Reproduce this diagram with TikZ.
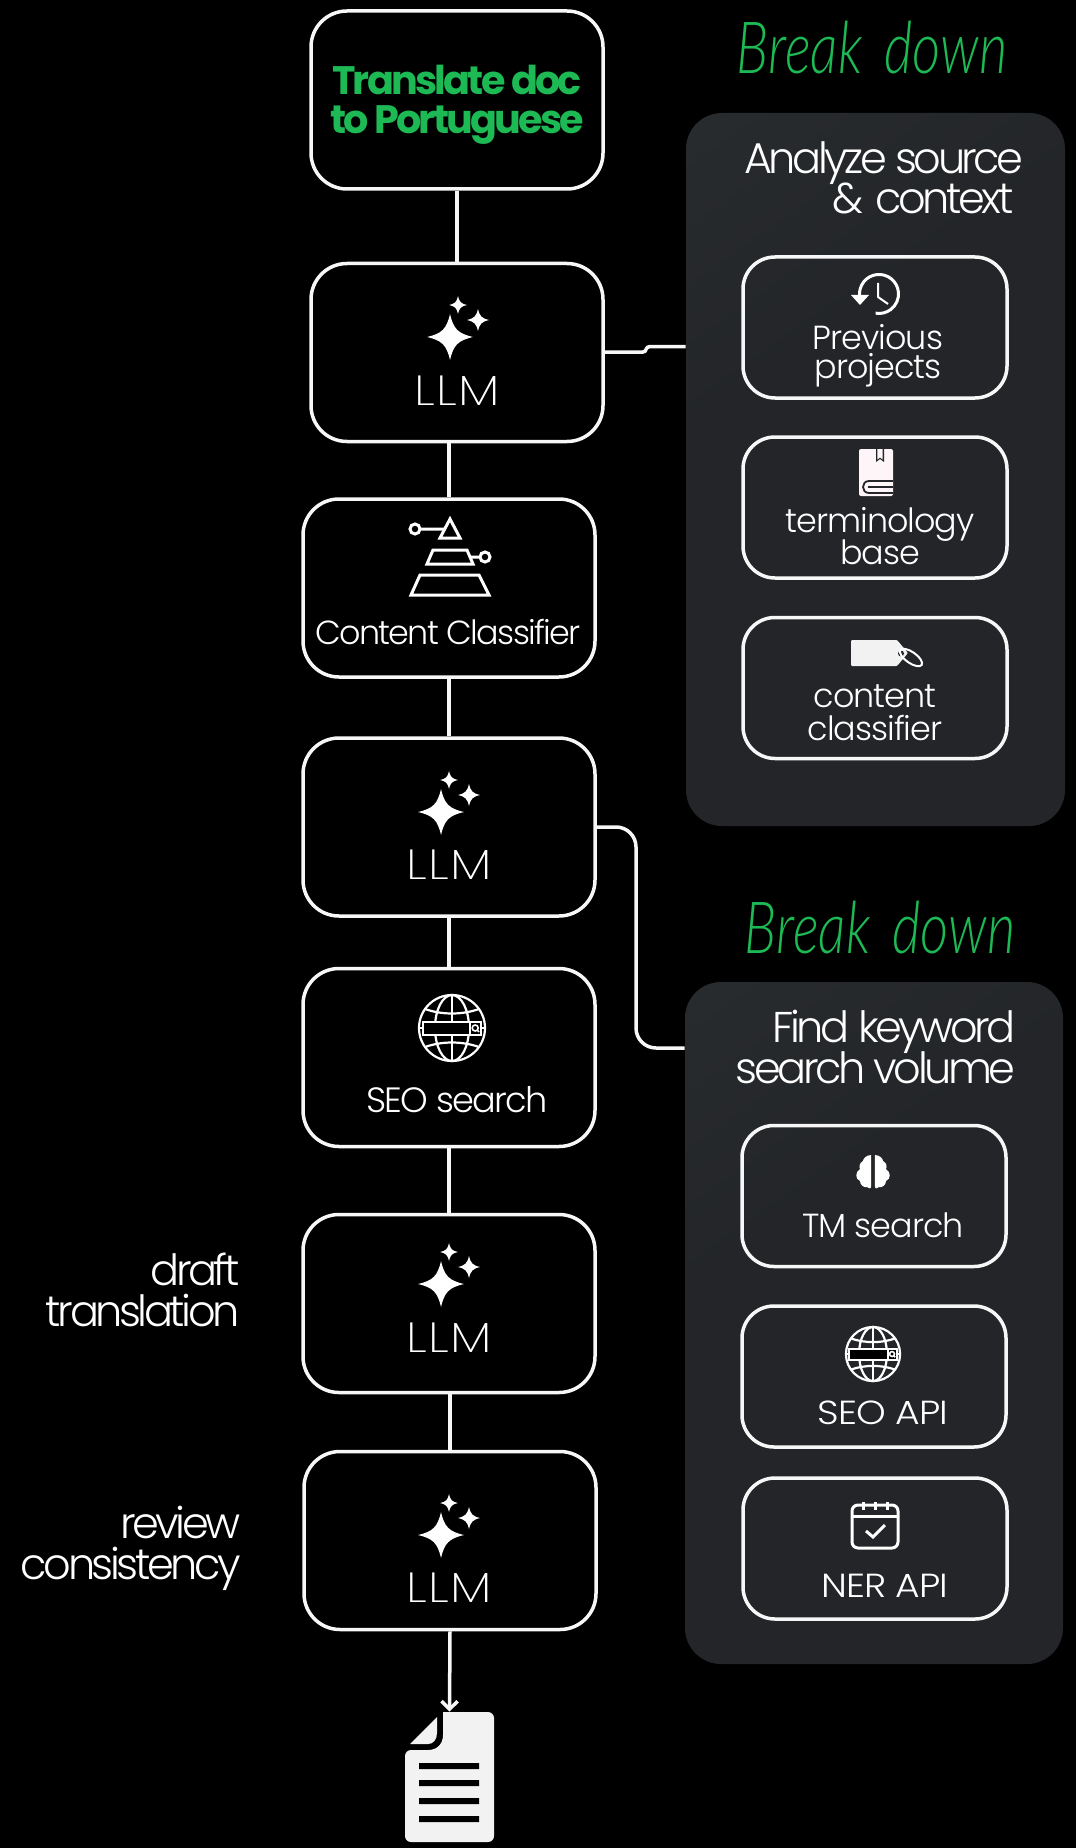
\documentclass[tikz,border=0pt]{standalone}
\usepackage{fontspec}
\usetikzlibrary{arrows.meta,calc}
\setmainfont{Poppins Light}
\newfontfamily\lightf[LetterSpace=-8]{Poppins Light}
\newfontfamily\midf[LetterSpace=-3]{Poppins Light}
\newfontfamily\tightf[LetterSpace=-5]{Poppins Light}
\newfontfamily\capf[FakeStretch=1.13,LetterSpace=-3]{Poppins Light}
\newfontfamily\llmf[FakeStretch=1.2,LetterSpace=3]{Poppins ExtraLight}
\newfontfamily\boldf[LetterSpace=-7]{Poppins Bold}
\newfontfamily\handf[FakeStretch=0.76,WordSpace=1.6]{Lato Light Italic}
\lineskiplimit=-50pt
\definecolor{brand}{HTML}{1DB954}
\definecolor{panelA}{HTML}{2C3031}
\definecolor{panelB}{HTML}{232528}
\definecolor{linew}{HTML}{F7F7F7}
\definecolor{docw}{HTML}{F2F2F2}
\definecolor{bookw}{HTML}{FDF5F7}
\tikzset{
  box/.style 2 args={rectangle,draw=linew,line width=3.5*0.02cm,rounded corners=36*0.02cm,fill=black,minimum width=#1*0.02cm,minimum height=#2*0.02cm,inner sep=0pt},
  main/.style={box={292}{178}},
  sub/.style={box={264}{141},fill=none,rounded corners=32*0.02cm},
  panel/.style={rectangle,rounded corners=36*0.02cm,minimum width=#1,inner sep=0pt,fill=panelB},
  link/.style={draw=linew,line width=3.5*0.02cm},
  iconline/.style={draw=white,line width=3*0.02cm,line join=miter},
  bigtxt/.style={text=white,inner sep=0pt,anchor=base,font=\lightf\fontsize{24.5}{23.3}\selectfont},
  llmtxt/.style={text=white,inner sep=0pt,anchor=base,font=\llmf\fontsize{24}{24}\selectfont},
  midtxt/.style={text=white,inner sep=0pt,anchor=base,font=\midf\fontsize{19}{16.4}\selectfont},
  pics/star4/.style={code={\fill[white,scale=#1] (0,-1) .. controls (0.15,-0.35) and (0.35,-0.15) .. (1,0) .. controls (0.35,0.15) and (0.15,0.35) .. (0,1) .. controls (-0.15,0.35) and (-0.35,0.15) .. (-1,0) .. controls (-0.35,-0.15) and (-0.15,-0.35) .. (0,-1) -- cycle;}},
  pics/sparkle/.style={code={
    \pic at (0,0) {star4=23};
    \pic at (8,-32) {star4=8.8};
    \pic at (28,-17) {star4=11};}},
  pics/globe/.style={code={
    \begin{scope}[scale=#1]
    \draw[white,line width=2.2*0.02cm] (0,0) circle (33);
    \draw[white,line width=2.2*0.02cm] (0,0) ellipse (17 and 33);
    \draw[white,line width=2.2*0.02cm] (0,-33) -- (0,33);
    \draw[white,line width=2.2*0.02cm] (-27,-19) .. controls (-10,-13) and (10,-13) .. (27,-19);
    \draw[white,line width=2.2*0.02cm] (-27,19) .. controls (-10,13) and (10,13) .. (27,19);
    \draw[white,line width=2.2*0.02cm] (-33,0) -- (33,0);
    \filldraw[fill=black,draw=white,line width=2.2*0.02cm] (-29,-6) rectangle (29,7);
    \draw[white,line width=1.8*0.02cm] (18,-6) -- (18,7);
    \draw[white,line width=1.6*0.02cm] (23.2,0) circle (3) (25.4,2.2) -- (27,4);
    \end{scope}}}
}
\pgfdeclareverticalshading{panelshade}{100bp}{color(0bp)=(panelB); color(62bp)=(panelB); color(100bp)=(panelA)}
\begin{document}
\begin{tikzpicture}[x=0.02cm,y=-0.02cm]
\useasboundingbox[fill=black] (0,0) rectangle (1076,1848);

% panels
\node[rectangle,rounded corners=36*0.02cm,minimum width=379*0.02cm,minimum height=713*0.02cm,inner sep=0pt,shading=panelshade,shading angle=35] (p1) at (875.5,469.5) {};
\node[rectangle,rounded corners=36*0.02cm,minimum width=378*0.02cm,minimum height=682*0.02cm,inner sep=0pt,shading=panelshade,shading angle=35] (p2) at (874,1323) {};

% main column
\node[main] (b1) at (457,100) {};
\node[main] (b2) at (457,352.5) {};
\node[main] (b3) at (449,588) {};
\node[main] (b4) at (449,827) {};
\node[main] (b5) at (449,1057.5) {};
\node[main] (b6) at (449,1303.5) {};
\node[main] (b7) at (450,1540.5) {};

% sub boxes
\node[sub] (s1) at (875,327.5) {};
\node[sub] (s2) at (875,507.5) {};
\node[sub] (s3) at (875,688) {};
\node[sub] (s4) at (874,1196) {};
\node[sub] (s5) at (874,1376.5) {};
\node[sub] (s6) at (875,1548.5) {};

% document node
\node[rectangle,minimum width=89*0.02cm,minimum height=130*0.02cm,inner sep=0pt] (doc) at (449.5,1777) {};

% connectors
\draw[link] (b1.south -| b2) -- (b2.north);
\draw[link] (b3.north |- b2.south) -- (b3.north);
\draw[link] (b3) ++(0,89) -- (b4.north);
\draw[link] (b4.south) -- (b5.north);
\draw[link] (b5.south) -- (b6.north);
\draw[link] (b6.south) ++(1,0) -- (b7.north);
\draw[link,-{Straight Barb[length=8*0.02cm,width=16*0.02cm,line width=3.5*0.02cm]}] (b7.south) -- (doc.north);
\coordinate (j1) at (643,352);
\coordinate (j2) at (650,346.5);
\draw[link] (b2.east |- j1) -- (j1) .. controls (647,352) and (645,346.5) .. (j2) -- (j2 -| p1.west);
\coordinate (c1) at (636,827);
\coordinate (c2) at (636,1048);
\draw[link,rounded corners=20*0.02cm] (b4.east) -- (c1) -- (c2) -- (c2 -| p2.west);

% texts main
\node[text=brand,inner sep=0pt,anchor=base,font=\boldf\fontsize{22.6}{22.7}\selectfont,align=center] (t1) at (457,134) {Translate doc\\to Portuguese};
\node[llmtxt] (t2) at (457,405) {LLM};
\node[midtxt,font=\tightf\fontsize{19}{17}\selectfont] (t3) at (448,644) {Content Classifier};
\node[llmtxt] (t4) at (449,879) {LLM};
\node[midtxt,font=\tightf\fontsize{20}{17}\selectfont] (t5) at (457,1112) {SEO search};
\node[llmtxt] (t6) at (449,1352) {LLM};
\node[llmtxt] (t7) at (449,1602) {LLM};

% left labels
\node[bigtxt,anchor=base east,align=right] (l1) at (240,1326) {draft\\translation};
\node[bigtxt,anchor=base east,align=right] (l2) at (241,1579) {review\\consistency};

% handwriting
\node[text=brand,inner sep=0pt,anchor=base,font=\handf\fontsize{41}{41}\selectfont] (h1) at (872,74) {Break down};
\node[text=brand,inner sep=0pt,anchor=base,font=\handf\fontsize{41}{41}\selectfont] (h2) at (880,953) {Break down};

% panel headings
\node[bigtxt,anchor=base east,align=right] (ph1) at (1024,214) {Analyze source\\\&\hspace{0.08cm} context\rule{0.2cm}{0pt}};
\node[bigtxt,anchor=base east,align=right] (ph2) at (1016,1083) {Find keyword\\search volume};

% sub labels
\node[midtxt,align=center] (a1) at (878,378) {Previous\\projects};
\node[midtxt,align=center,font=\midf\fontsize{19}{18.2}\selectfont] (a2) at (880,564) {terminology\\base};
\node[midtxt,align=center,font=\midf\fontsize{19}{18.5}\selectfont] (a3) at (875,740) {content\\classifier};
\node[midtxt] (a4) at (883,1237) {TM search};
\node[midtxt,font=\capf\fontsize{19}{17}\selectfont] (a5) at (883,1424) {SEO API};
\node[midtxt,font=\capf\fontsize{19}{17}\selectfont] (a6) at (885,1597) {NER API};

% sparkles
\pic at (450,337) {sparkle};
\pic at (441,812) {sparkle};
\pic at (441,1284) {sparkle};
\pic at (441,1535) {sparkle};

% pyramid
\draw[iconline] (450,519) -- (460,538) -- (440,538) -- cycle;
\draw[iconline] (433,550) -- (467,550) -- (473,564) -- (427,564) -- cycle;
\draw[iconline] (420,575) -- (479,575) -- (489,595) -- (411,595) -- cycle;
\draw[iconline] (415,529) circle (5) (420,529) -- (445,529);
\draw[iconline] (485,557) circle (5) (470,557) -- (480,557);

% globes
\pic at (452,1028) {globe=1};
\pic at (873,1354) {globe=0.82};

% clock
\draw[white,line width=3*0.02cm] (859.6,296) arc[start angle=174,end angle=460,radius=19.5];
\fill[white] (851,295) -- (869,295) -- (860,305) -- cycle;
\draw[white,line width=2*0.02cm] (878,283) -- (878,297) -- (888,304);

% book
\fill[bookw,rounded corners=2*0.02cm] (859,449) rectangle (893,496);
\fill[panelB] (876,449) -- (876,462) -- (880,459) -- (884,462) -- (884,449) -- cycle;
\fill[bookw] (877.3,449) -- (877.3,459.5) -- (880,457.5) -- (882.7,459.5) -- (882.7,449) -- cycle;
\draw[panelB,line width=1.8*0.02cm] (893,481) -- (869,481) .. controls (861,481) and (861,493) .. (869,493) -- (893,493);
\draw[panelB,line width=1.2*0.02cm] (868,487) -- (893,487);

% tag
\fill[docw,rounded corners=1*0.02cm] (851,640) -- (897,640) -- (908,653) -- (897,666) -- (851,666) -- cycle;
\fill[panelB] (901,653.5) circle (3);
\draw[white,line width=2*0.02cm,rotate around={-35:(911,657.5)}] (911,657.5) ellipse (13 and 5.5);

% brain
\fill[white] (871.2,1155) .. controls (866,1155) and (863,1159) .. (863,1161) .. controls (859,1163) and (859,1167) .. (860,1169) .. controls (855,1172) and (855,1179) .. (860,1181) .. controls (860,1185) and (864,1188) .. (867,1187) .. controls (868,1189) and (871.2,1189) .. (871.2,1186) -- cycle;
\fill[white] (874.8,1155) .. controls (880,1155) and (883,1159) .. (883,1161) .. controls (887,1163) and (887,1167) .. (886,1169) .. controls (891,1172) and (891,1179) .. (886,1181) .. controls (886,1185) and (882,1188) .. (879,1187) .. controls (878,1189) and (874.8,1189) .. (874.8,1186) -- cycle;

% calendar
\draw[white,line width=3*0.02cm,rounded corners=6*0.02cm] (852,1505) rectangle (898,1548);
\draw[white,line width=3*0.02cm] (852,1516) -- (898,1516);
\draw[white,line width=3*0.02cm] (863,1502) -- (863,1510) (875,1502) -- (875,1510) (887,1502) -- (887,1510);
\draw[white,line width=3*0.02cm] (866,1531) -- (873,1537) -- (885,1525);

% document
\fill[docw] (443,1712) [rounded corners=6*0.02cm] -- (494,1712) -- (494,1842) -- (405,1842) -- (405,1750) [sharp corners] -- (428,1750) .. controls (437,1750) and (443,1744) .. (443,1735) -- cycle;
\fill[docw] (410,1744) -- (437,1717) -- (437,1733) .. controls (437,1740) and (433,1744) .. (428,1744) -- cycle;
\fill[black] (419,1763) rectangle (479,1769) (419,1780) rectangle (479,1786) (419,1798) rectangle (479,1804) (419,1816) rectangle (479,1822);
\end{tikzpicture}
\end{document}
